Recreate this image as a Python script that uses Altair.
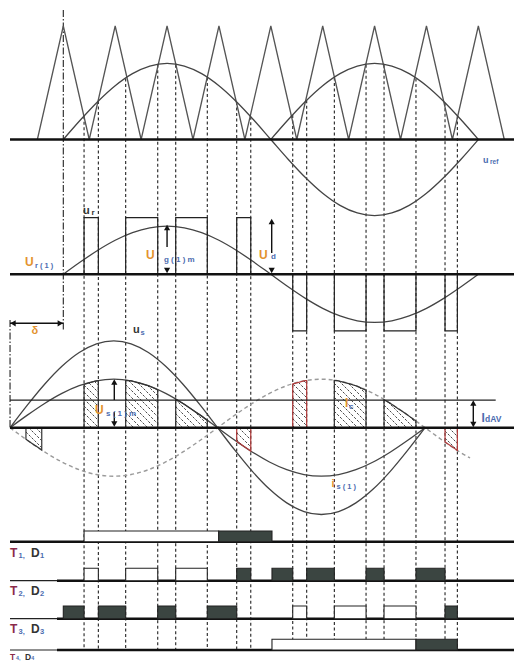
import altair as alt
import pandas as pd
import numpy as np

# ------------------------------------------------------------------
# Values (x in electrical degrees)
# ------------------------------------------------------------------
wave_deg = [0, 15, 30, 45, 60, 75, 90, 105, 120, 135, 150, 165, 180,
            195, 210, 225, 240, 255, 270, 285, 300, 315, 330, 345, 360]
wave_val = [0.000, 0.259, 0.500, 0.707, 0.866, 0.966, 1.000, 0.966, 0.866, 0.707, 0.500, 0.259, 0.000,
            -0.259, -0.500, -0.707, -0.866, -0.966, -1.000, -0.966, -0.866, -0.707, -0.500, -0.259, 0.000]

carrier_deg = [-22.5, 0, 22.5, 45, 67.5, 90, 112.5, 135, 157.5, 180, 202.5,
               225, 247.5, 270, 292.5, 315, 337.5, 360, 382.5]
carrier_val = [0, 1, 0, 1, 0, 1, 0, 1, 0, 1, 0, 1, 0, 1, 0, 1, 0, 1, 0]

ref_amp = 0.67         # u_ref peak relative to carrier peak
fund_amp = 0.85        # u_r(1) peak relative to U_d
us_amp = 1.79          # u_s peak relative to i_s(1) peak
is_amp = 1.00          # i_s(1) peak
idav_level = 0.57      # I_dAV relative to i_s(1) peak
delta_deg = 46.2       # phase shift delta
dashed_extent = 399.0  # the dashed -i_s(1) runs on past one period

switch_deg = [18.0, 30.4, 54.1, 81.9, 97.5, 124.9, 150.4, 162.6,
              199.0, 211.1, 235.1, 262.6, 278.2, 305.9, 331.1, 341.8]

pos_pulses = [(18.0, 30.4), (54.1, 81.9), (97.5, 124.9), (150.4, 162.6)]
neg_pulses = [(199.0, 211.1), (235.1, 262.6), (278.2, 305.9), (331.1, 341.8)]
prev_neg_pulse = [(-32.4, -18.7)]
red_blocks = [150.4, 199.0, 331.1]   # start angles of the red outlined blocks

t_white = [
    [(18.0, 134.8)],
    [(18.0, 30.4), (54.1, 81.9), (97.5, 124.9)],
    [(199.0, 211.1), (235.1, 262.6), (278.2, 305.9)],
    [(181.0, 305.9)],
]
t_dark = [
    [(134.8, 181.0)],
    [(150.4, 162.6), (181.0, 199.0), (211.1, 235.1), (262.6, 278.2), (305.9, 331.1)],
    [(0.0, 18.0), (30.4, 54.1), (81.9, 97.5), (124.9, 150.4), (331.1, 341.8)],
    [(305.9, 341.8)],
]
t_names = [("1", "1"), ("2", "2"), ("3", "3"), ("4", "4")]

# ------------------------------------------------------------------
# Layout (pixels)
# ------------------------------------------------------------------
W, H = 506, 654
X0, X1 = -47.97, 390.93
KX = W / (X1 - X0)


def deg2px(d):
    return 8 + (np.asarray(d, float) - X0) * KX


def px2deg(p):
    return (np.asarray(p, float) - 8) / KX + X0


B1, S1 = 139.5, 113.5
B2, S2 = 274.3, 56.6
B3, S3 = 427.7, 48.5
ROW_BASE = [541.7, 580.7, 618.7, 650.0]
ROW_H = [10.7, 12.4, 12.7, 10.7]
ROW_LABEL_Y = [557, 595, 633, 659.5]
ROW_LABEL_SIZE = [12, 12, 12, 8.5]
LEFT = float(px2deg(10))
RIGHT = float(px2deg(530))
THICK_START = float(px2deg(57))
VBOTTOM = 650

ORANGE = "#e39330"
BLUE = "#4b6cb0"
DARK = "#333333"
MAROON = "#8b2a4a"
RED = "#b23a3a"
FILL_DARK = "#3b4541"


def shape_at(theta):
    return np.interp(np.mod(np.asarray(theta, float), 360.0), wave_deg, wave_val)


xs = alt.Scale(domain=[X0, X1], nice=False, zero=False)
ys = alt.Scale(domain=[8, 8 + H], nice=False, zero=False, reverse=True)


def X(f="x"):
    return alt.X(f"{f}:Q", scale=xs, axis=None)


def Y(f="y"):
    return alt.Y(f"{f}:Q", scale=ys, axis=None)


# ---------------- curves ----------------
wd = np.array(wave_deg, float)
wv = np.array(wave_val, float)
crv = []


def add_curve(cid, cx, cy):
    for i, (a, b) in enumerate(zip(cx, cy)):
        crv.append(dict(id=cid, x=float(a), y=float(b), i=i))


add_curve("uref", wd, B1 - ref_amp * S1 * wv)
add_curve("uref_abs", wd[12:], B1 - ref_amp * S1 * np.abs(wv[12:]))
add_curve("ur1", wd, B2 - fund_amp * S2 * wv)
add_curve("us", wd - delta_deg, B3 - us_amp * S3 * wv)
add_curve("is1", wd - delta_deg, B3 - is_amp * S3 * wv)
solid_df = pd.DataFrame(crv)

ext = np.concatenate([wd, [375.0, 390.0, dashed_extent]])
dashed_df = pd.DataFrame({"x": ext - delta_deg, "y": B3 + is_amp * S3 * shape_at(ext)})

carrier_df = pd.DataFrame({"x": carrier_deg, "y": B1 - S1 * np.array(carrier_val, float)})

# ---------------- vertical guide lines ----------------
sw = np.array(switch_deg)
vd_df = pd.DataFrame({"x": sw, "y": B1 - ref_amp * S1 * np.abs(shape_at(sw)), "y2": VBOTTOM})
dd_df = pd.DataFrame({"x": [0.0, -delta_deg], "y": [10, 320], "y2": [330, B3]})

# ---------------- base lines ----------------
thick = [(LEFT, RIGHT, B1), (LEFT, RIGHT, B2), (LEFT, RIGHT, B3), (LEFT, RIGHT, ROW_BASE[0])]
thick += [(THICK_START, RIGHT, b) for b in ROW_BASE[1:]]
thin = [(LEFT, THICK_START, b) for b in ROW_BASE[1:]]
thin += [(LEFT, float(px2deg(495.7)), B3 - idav_level * S3)]
thick_df = pd.DataFrame(thick, columns=["x", "x2", "y"])
thin_df = pd.DataFrame(thin, columns=["x", "x2", "y"])

# ---------------- panel 2 pulses ----------------
pl = [(a, b, B2, B2 - S2) for a, b in pos_pulses] + [(a, b, B2, B2 + S2) for a, b in neg_pulses]
pulse_df = pd.DataFrame(pl, columns=["x", "x2", "y", "y2"])

# ---------------- hatched current blocks ----------------
regions = [(a, b, 1) for a, b in pos_pulses] + [(a, b, -1) for a, b in neg_pulses] + \
          [(a, b, -1) for a, b in prev_neg_pulse]


def region_y(deg, sign):
    return B3 - sign * is_amp * S3 * shape_at(np.asarray(deg) + delta_deg)


hatch = []
outline = []
STEP = 7.0
for rid, (a, b, sgn) in enumerate(regions):
    Xa, Xb = float(deg2px(a)), float(deg2px(b))
    xp = np.arange(Xa, Xb + 1e-9, 0.2)
    yc = region_y(px2deg(xp), sgn)
    lo = np.minimum(B3, yc)
    hi = np.maximum(B3, yc)
    kmin = lo.min() - Xb
    kmax = hi.max() - Xa
    k = np.floor(kmin / STEP) * STEP
    while k <= kmax:
        yy = xp + k
        ok = np.where((yy >= lo) & (yy <= hi))[0]
        if len(ok) >= 3:
            i0, i1 = ok[0], ok[-1]
            hatch.append(dict(x=float(px2deg(xp[i0])), y=float(yy[i0]),
                              x2=float(px2deg(xp[i1])), y2=float(yy[i1])))
        k += STEP
    col = RED if any(abs(a - r) < 1e-6 for r in red_blocks) else DARK
    gx = np.linspace(a, b, 12)
    pts = [(a, B3)] + list(zip(gx, region_y(gx, sgn))) + [(b, B3)]
    for j, (px_, py_) in enumerate(pts):
        outline.append(dict(rid=rid, x=float(px_), y=float(py_), o=j, c=col))
hatch_df = pd.DataFrame(hatch)
outline_df = pd.DataFrame(outline)

# ---------------- switch state rows ----------------
tr = []
for r in range(4):
    for a, b in t_white[r]:
        tr.append(dict(x=a, x2=b, y=ROW_BASE[r], y2=ROW_BASE[r] - ROW_H[r], f="#ffffff"))
    for a, b in t_dark[r]:
        tr.append(dict(x=a, x2=b, y=ROW_BASE[r], y2=ROW_BASE[r] - ROW_H[r], f=FILL_DARK))
trow_df = pd.DataFrame(tr)

# ---------------- arrows ----------------
a_ug = 90.0
a_ud = float(px2deg(271.7))
a_us = float(px2deg(114.3))
a_id = float(px2deg(473.3))
shaft_df = pd.DataFrame([
    (a_ug, 228, 247), (a_ud, 222, 253), (a_us, 383, 400), (a_us, 412, 424),
    (a_id, 403, 425),
], columns=["x", "y", "y2"])
hshaft_df = pd.DataFrame([(-delta_deg, 0.0, 323.3)], columns=["x", "x2", "y"])
dx3 = 3.0 / KX
head_df = pd.DataFrame([
    (a_ug, 227.5, "triangle-up"), (a_ug, 270.5, "triangle-down"),
    (a_ud, 221.5, "triangle-up"), (a_ud, 270.5, "triangle-down"),
    (a_us, 382.0, "triangle-up"), (a_us, 424.0, "triangle-down"),
    (a_id, 403.0, "triangle-up"), (a_id, 424.5, "triangle-down"),
    (-delta_deg + dx3, 323.3, "triangle-left"), (-dx3, 323.3, "triangle-right"),
], columns=["x", "y", "s"])

# ---------------- labels ----------------
lab = [
    ("u", 83, 214, 11, DARK), ("r", 91.5, 215, 8, DARK),
    ("U", 25, 266, 12, ORANGE), ("r ( 1 )", 35, 268, 7.5, BLUE),
    ("U", 146, 259, 12, ORANGE), ("g ( 1 ) m", 164, 262, 8, BLUE),
    ("U", 259, 259, 12, ORANGE), ("d", 271, 259, 8, BLUE),
    ("δ", 31.5, 334, 11, ORANGE),
    ("u", 133, 333, 11, DARK), ("s", 140.5, 335, 7.5, BLUE),
    ("U", 95, 414, 12, ORANGE), ("s ( 1 ) m", 106, 416, 8, BLUE),
    ("I", 345, 407, 12, ORANGE), ("c", 349, 409, 8, BLUE),
    ("i", 331.5, 487, 11, ORANGE), ("s ( 1 )", 336.5, 489, 7.5, BLUE),
    ("I", 481.5, 422, 12, BLUE), ("dAV", 485, 422, 8.5, BLUE),
    ("u", 483, 163, 9, BLUE), ("ref", 490, 164, 6.5, BLUE),
]
for r in range(4):
    ybl = ROW_LABEL_Y[r]
    fs = ROW_LABEL_SIZE[r]
    k = fs / 12.0
    lab += [("T", 10, ybl, fs, MAROON), (t_names[r][0] + ",", 10 + 8.5 * k, ybl + 1 * k, 7.5 * k, BLUE),
            ("D", 10 + 21 * k, ybl, fs, DARK), (t_names[r][1], 10 + 30 * k, ybl + 1 * k, 7.5 * k, BLUE)]
lab_df = pd.DataFrame([dict(x=float(px2deg(p[1])), y=p[2], t=p[0], s=p[3], c=p[4]) for p in lab])

# ---------------- chart ----------------
layers = [
    alt.Chart(vd_df).mark_rule(color="#222222", strokeWidth=1.1, strokeDash=[3, 2.5]).encode(
        x=X(), y=Y(), y2="y2"),
    alt.Chart(dd_df).mark_rule(color="#222222", strokeWidth=1.1, strokeDash=[7, 2, 1.5, 2]).encode(
        x=X(), y=Y(), y2="y2"),
    alt.Chart(carrier_df).mark_line(color="#555555", strokeWidth=1.3).encode(x=X(), y=Y()),
    alt.Chart(solid_df).mark_line(color="#444444", strokeWidth=1.3, interpolate="monotone").encode(
        x=X(), y=Y(), detail="id:N", order="i:Q"),
    alt.Chart(dashed_df).mark_line(color="#9a9a9a", strokeWidth=1.4, strokeDash=[4, 3],
                                   interpolate="monotone").encode(x=X(), y=Y()),
    alt.Chart(pulse_df).mark_rect(filled=False, stroke="#222222", strokeWidth=1.2).encode(
        x=X(), x2="x2", y=Y(), y2="y2"),
    alt.Chart(hatch_df).mark_rule(color="#333333", strokeWidth=0.9, strokeDash=[2.5, 1.5]).encode(
        x=X(), x2="x2", y=Y(), y2="y2"),
    alt.Chart(outline_df).mark_line(strokeWidth=1.2).encode(
        x=X(), y=Y(), detail="rid:N", order="o:Q", color=alt.Color("c:N", scale=None)),
    alt.Chart(thin_df).mark_rule(color="#222222", strokeWidth=1.2).encode(x=X(), x2="x2", y=Y()),
    alt.Chart(thick_df).mark_rule(color="#111111", strokeWidth=2.4).encode(x=X(), x2="x2", y=Y()),
    alt.Chart(trow_df).mark_rect(stroke="#222222", strokeWidth=1.1).encode(
        x=X(), x2="x2", y=Y(), y2="y2", fill=alt.Fill("f:N", scale=None)),
    alt.Chart(shaft_df).mark_rule(color="#111111", strokeWidth=1.4).encode(x=X(), y=Y(), y2="y2"),
    alt.Chart(hshaft_df).mark_rule(color="#111111", strokeWidth=1.4).encode(x=X(), x2="x2", y=Y()),
    alt.Chart(head_df).mark_point(filled=True, size=38, color="#111111", opacity=1).encode(
        x=X(), y=Y(), shape=alt.Shape("s:N", scale=None)),
    alt.Chart(lab_df).mark_text(align="left", baseline="alphabetic", font="Liberation Sans",
                                fontWeight="bold").encode(
        x=X(), y=Y(), text="t:N", size=alt.Size("s:Q", scale=None), color=alt.Color("c:N", scale=None)),
]

chart = alt.layer(*layers).properties(
    width=W, height=H, padding=0, autosize=alt.AutoSizeParams(type="none")
).configure_view(stroke=None)

chart.save("out.html", embed_options={"renderer": "svg", "actions": False})
